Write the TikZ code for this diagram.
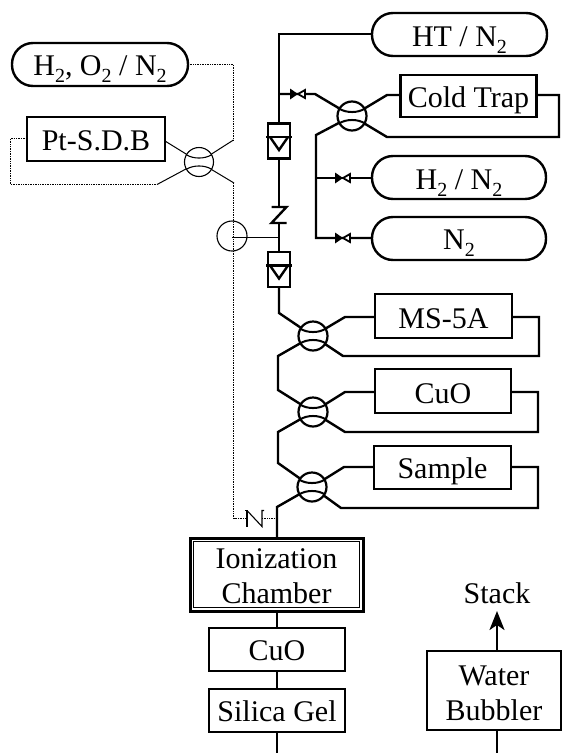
\documentclass[tikz,border=0pt]{standalone}
\usepackage{fontspec}
\setmainfont{Liberation Serif}
\usetikzlibrary{arrows.meta}
\newcommand{\gassub}{\raisebox{-0.24em}{\fontsize{20}{20}\selectfont 2}}
% one line of label: baseline a given distance under the centre of its node
\newcommand{\lab}[2][11pt]{\raisebox{-#1}[0pt][0pt]{#2}}
% two lines of label: last baseline a given distance under the centre of its node
\newcommand{\twolab}[3]{\raisebox{-#1}[0pt][0pt]{\begin{tabular}[b]{@{}c@{}}#2\\#3\end{tabular}}}
\tikzset{
  x=1pt,y=-1pt,
  line/.style={line width=2.4pt,black},
  thinline/.style={line width=1pt,black},
  dotline/.style={line width=1pt,black,dash pattern=on 1pt off 0.7pt},
  labelled/.style={font=\fontsize{30}{35}\selectfont,align=center,inner sep=0pt,outer sep=0pt,text=black},
  pill/.style={labelled,draw,line width=2.4pt,rounded corners=21pt,minimum height=43pt},
  boxed/.style={labelled,draw,line width=2.4pt,minimum height=43pt},
  ring/.style={circle,draw,line width=2.2pt,minimum size=29pt,inner sep=0pt,outer sep=0pt},
  thinring/.style={circle,draw,line width=1.1pt,minimum size=29pt,inner sep=0pt,outer sep=0pt},
  spot/.style={inner sep=0pt,outer sep=0pt,minimum width=15pt,minimum height=16pt},
  checkbox/.style={draw,line width=2.4pt,fill=white,minimum width=22pt,minimum height=35pt,inner sep=0pt,outer sep=0pt},
  handvalve/.style={inner sep=0pt,outer sep=0pt,minimum size=1pt},
}
% flow-switching valve: ring with its two inner arcs
\newcommand{\switchvalve}[4][line width=2pt]{%
  \node[#2] (#3) at (#4) {};
  \draw[#1] ([shift={(-13,-7.5)}]#3.center) .. controls ([shift={(-6,-2.8)}]#3.center) and ([shift={(6,-2.8)}]#3.center) .. ([shift={(13,-7.5)}]#3.center);
  \draw[#1] ([shift={(-13,7.5)}]#3.center) .. controls ([shift={(-6,2.8)}]#3.center) and ([shift={(6,2.8)}]#3.center) .. ([shift={(13,7.5)}]#3.center);
}
% one-way check unit: box, cross bar, V
\newcommand{\checkunit}[2]{%
  \node[checkbox] (#1) at (#2) {};
  \draw[line] ([shift={(-2,-4)}]#1.west) -- ([shift={(2,-4)}]#1.east);
  \draw[line] ([shift={(2,-4)}]#1.west) -- ([shift={(0,9)}]#1.center) -- ([shift={(-2,-4)}]#1.east);
}
% needle valve bow-tie
\newcommand{\needle}[2]{%
  \node[handvalve] (#1) at (#2) {};
  \fill ([shift={(-8,-5.5)}]#1.center) -- ([shift={(-8,5.5)}]#1.center) -- (#1.center) -- cycle;
  \draw[line width=1.8pt,fill=white] (#1.center) -- ([shift={(7,-4)}]#1.center) -- ([shift={(7,4)}]#1.center) -- cycle;
}
\begin{document}
\begin{tikzpicture}
\useasboundingbox (0,0) rectangle (562,753);

% ---- boxes and cylinders
\node[pill,minimum width=175pt] (ht) at (459.5,34.5) {\lab[11.5pt]{HT / N\gassub}};
\node[boxed,minimum width=136pt,minimum height=42pt] (ct) at (468.5,96) {\lab{Cold Trap}};
\node[pill,minimum width=174pt] (h2n2) at (459,177.5) {\lab[11.5pt]{H\gassub{} / N\gassub}};
\node[pill,minimum width=174pt] (n2) at (459,238.5) {\lab{N\gassub}};
\node[pill,minimum width=176pt] (h2o2) at (100,64.5) {\lab[10.5pt]{H\gassub, O\gassub{} / N\gassub}};
\node[boxed,minimum width=138pt,minimum height=44pt] (pt) at (96,139) {\lab{Pt-S.D.B}};
\node[boxed,minimum width=137pt,minimum height=44pt] (ms) at (443.5,316) {\lab[12pt]{MS-5A}};
\node[boxed,minimum width=136pt,minimum height=44pt] (cuoa) at (443,391) {\lab[12pt]{CuO}};
\node[boxed,minimum width=137pt,minimum height=43pt] (sam) at (442.5,467.5) {\lab[10.5pt]{Sample}};
\node[labelled,draw,line width=3pt,minimum width=173pt,minimum height=73pt] (ion) at (276.5,574.5) {\twolab{28.5pt}{Ionization}{Chamber}};
\node[boxed,minimum width=136pt,minimum height=43pt] (cuob) at (277,649.5) {\lab[10.5pt]{CuO}};
\node[boxed,minimum width=136pt,minimum height=43pt] (sil) at (277,710.5) {\lab[10.5pt]{Silica Gel}};
\node[boxed,minimum width=134pt,minimum height=79pt] (wat) at (494,690.5) {\twolab{29.5pt}{Water}{Bubbler}};
\node[labelled,minimum height=34pt] (stack) at (497,594) {\lab[9pt]{Stack}};
\draw[line width=0.9pt] ([shift={(3.5,3.5)}]ion.north west) rectangle ([shift={(-3.5,-3.5)}]ion.south east);

% ---- named corners
\coordinate (topcorner) at (279,34);
\coordinate (tee) at (279,94);
\coordinate (ctA) at (315,94);
\coordinate (ctB) at (387,95);
\coordinate (ctC) at (559,137);
\coordinate (ctD) at (387,137);
\coordinate (ctE) at (316,135);
\coordinate (teeH) at (316,178);
\coordinate (teeN) at (316,238);
\coordinate (msA) at (279,313);
\coordinate (msB) at (345,317);
\coordinate (msC) at (539,356);
\coordinate (msD) at (343,356);
\coordinate (msE) at (278,356);
\coordinate (cuA) at (278,390);
\coordinate (cuB) at (345,392);
\coordinate (cuC) at (538,432);
\coordinate (cuD) at (345,432);
\coordinate (cuE) at (278,432);
\coordinate (saA) at (278,463);
\coordinate (saB) at (344,467);
\coordinate (saC) at (538,508);
\coordinate (saD) at (341,508);
\coordinate (saE) at (277,507);
\coordinate (chtop) at (277,518.5);
\coordinate (silout) at (277,753);
\coordinate (watout) at (497,753);
\coordinate (dA) at (233.5,64.5);
\coordinate (dB) at (233.5,140);
\coordinate (dC) at (234,183);
\coordinate (dD) at (233.5,518.5);
\coordinate (dE) at (10.5,138.5);
\coordinate (dF) at (10.5,184.5);
\coordinate (dG) at (157,184.5);
\coordinate (ptR) at (165,141);
\coordinate (tapJ) at (279,237.5);

% ---- valves and check units
\switchvalve[line width=2pt]{ring}{vct}{352,116}
\switchvalve[line width=2pt]{ring}{vms}{313,336}
\switchvalve[line width=2pt]{ring}{vcu}{313,412}
\switchvalve[line width=2pt]{ring}{vsa}{312,487}
\switchvalve[line width=1.1pt]{thinring}{vpt}{199,162}
\checkunit{cka}{279,141}
\checkunit{ckb}{279,269.5}
\node[spot] (zc) at (279,215) {};
\node[spot] (nc) at (254.5,518.5) {};
\node[circle,draw,line width=1.1pt,minimum size=30pt,inner sep=0pt,outer sep=0pt] (gauge) at (232,236) {};

% ---- thick connectors
\draw[line] (ht.west |- topcorner) -- (topcorner) -- (cka.north -| topcorner);
\draw[line] (tee) -- (ctA) -- (vct);
\draw[line] (vct) -- (ctB) -- (ctB -| ct.west);
\draw[line] (ct.east |- ctB) -| (ctC) -- (ctD) -- (vct);
\draw[line] (vct) -- (ctE) -- (teeN) -- (n2.west |- teeN);
\draw[line] (teeH) -- (h2n2.west |- teeH);
\draw[line] (cka.south -| zc) -- (zc.north);
\draw[line] (zc.south) -- (ckb.north -| zc);
\draw[line] (ckb.south -| msA) -- (msA) -- (vms);
\draw[line] (vms) -- (msB) -- (msB -| ms.west);
\draw[line] (ms.east |- msB) -| (msC) -- (msD) -- (vms);
\draw[line] (vms) -- (msE) -- (cuA) -- (vcu);
\draw[line] (vcu) -- (cuB) -- (cuB -| cuoa.west);
\draw[line] (cuoa.east |- cuB) -| (cuC) -- (cuD) -- (vcu);
\draw[line] (vcu) -- (cuE) -- (saA) -- (vsa);
\draw[line] (vsa) -- (saB) -- (saB -| sam.west);
\draw[line] (sam.east |- saB) -| (saC) -- (saD) -- (vsa);
\draw[line] (vsa) -- (saE) -- (ion.north -| saE);
\draw[line] (ion.south -| saE) -- (cuob.north -| saE);
\draw[line] (cuob.south -| saE) -- (sil.north -| saE);
\draw[line] (sil.south -| saE) -- (silout);
\draw[line] (wat.south -| watout) -- (watout);
\draw[line,-{Stealth[length=19pt,width=15pt,inset=5pt]}] (wat.north -| watout) -- (stack.south -| watout);

% ---- needle valves (over the lines)
\needle{nva}{298,94}
\needle{nvb}{343,178}
\needle{nvc}{343,238}

% ---- check valve and restrictor marks
\draw[line] (zc.north west) -- (zc.north east) -- (zc.south west) -- (zc.south east);
\draw[line width=1.1pt] ([shift={(-2,0)}]nc.north west) -- (nc.north west) -- (nc.south west);
\draw[line width=1.1pt] (nc.north west) -- (nc.south east) -- (nc.north east) -- ([shift={(2,0)}]nc.north east);

% ---- thin and dotted lines
\draw[dotline] (h2o2.east) -- (dA) -- (dB);
\draw[thinline] (dB) -- (vpt);
\draw[thinline] (vpt) -- (dC);
\draw[dotline] (dC -| dB) -- (dD) -- (nc.west);
\draw[dotline] (nc.east) -- (chtop);
\draw[dotline] (pt.west |- dE) -- (dE) -- (dF) -- (dG);
\draw[thinline] (dG) -- (vpt);
\draw[thinline] (ptR) -- (vpt);
\draw[thinline] (gauge.center |- tapJ) -- (tapJ);
\end{tikzpicture}
\end{document}
